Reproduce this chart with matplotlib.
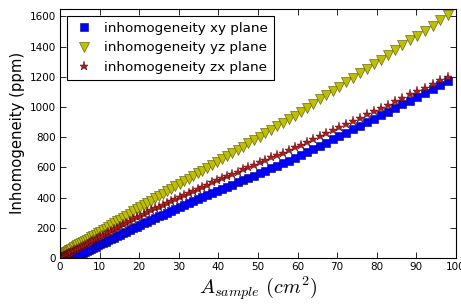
import matplotlib
matplotlib.use('Agg')
import matplotlib.pyplot as plt

# Sample area (cm^2) -- squares of the side length grid
area = [0, 0.01, 0.04, 0.09, 0.16, 0.25, 0.36, 0.49, 0.64, 0.81,
        1, 1.21, 1.44, 1.69, 1.96, 2.25, 2.56, 2.89, 3.24, 3.61,
        4, 4.41, 4.84, 5.29, 5.76, 6.25, 6.76, 7.29, 7.84, 8.41,
        9, 9.61, 10.24, 10.89, 11.56, 12.25, 12.96, 13.69, 14.44, 15.21,
        16, 16.81, 17.64, 18.49, 19.36, 20.25, 21.16, 22.09, 23.04, 24.01,
        25, 26.01, 27.04, 28.09, 29.16, 30.25, 31.36, 32.49, 33.64, 34.81,
        36, 37.21, 38.44, 39.69, 40.96, 42.25, 43.56, 44.89, 46.24, 47.61,
        49, 50.41, 51.84, 53.29, 54.76, 56.25, 57.76, 59.29, 60.84, 62.41,
        64, 65.61, 67.24, 68.89, 70.56, 72.25, 73.96, 75.69, 77.44, 79.21,
        81, 82.81, 84.64, 86.49, 88.36, 90.25, 92.16, 94.09, 96.04, 98.01]

# inhomogeneity (ppm) in the xy plane
inh_xy = [-40, -40, -39, -39, -38, -37, -35, -34, -32, -30,
          -27, -24, -22, -18, -15, -11, -7, -3, 1, 6,
          11, 16, 22, 28, 34, 40, 47, 53, 60, 68,
          75, 83, 91, 99, 108, 117, 126, 135, 144, 154,
          164, 174, 185, 196, 207, 218, 229, 240, 251, 263,
          275, 287, 299, 312, 325, 338, 350, 363, 376, 389,
          402, 416, 430, 444, 458, 472, 486, 501, 516, 531,
          546, 562, 578, 594, 610, 627, 643, 660, 679, 700,
          721, 742, 764, 785, 807, 830, 852, 875, 898, 922,
          945, 969, 993, 1018, 1042, 1067, 1093, 1118, 1144, 1170]

# inhomogeneity (ppm) in the yz plane
inh_yz = [15, 15, 16, 16, 17, 19, 21, 23, 25, 28,
          30, 34, 37, 41, 45, 50, 55, 60, 65, 71,
          77, 83, 90, 97, 104, 112, 120, 128, 137, 145,
          155, 164, 174, 184, 195, 206, 218, 230, 242, 254,
          267, 280, 294, 308, 322, 336, 350, 364, 379, 394,
          410, 425, 441, 457, 474, 491, 508, 525, 543, 561,
          579, 597, 616, 635, 655, 675, 696, 717, 738, 759,
          781, 803, 825, 848, 871, 894, 918, 942, 967, 995,
          1022, 1050, 1078, 1106, 1135, 1164, 1193, 1223, 1253, 1283,
          1314, 1345, 1377, 1409, 1441, 1473, 1506, 1539, 1573, 1607]

# inhomogeneity (ppm) in the zx plane
inh_zx = [0, 0, 1, 1, 2, 4, 5, 7, 9, 11,
          14, 17, 20, 24, 27, 32, 36, 40, 45, 51,
          56, 62, 68, 74, 81, 88, 95, 102, 110, 118,
          126, 135, 143, 152, 162, 171, 181, 191, 201, 212,
          223, 234, 245, 257, 269, 281, 292, 304, 316, 328,
          340, 352, 365, 378, 392, 405, 418, 431, 444, 458,
          472, 486, 500, 514, 529, 543, 558, 572, 587, 602,
          618, 634, 649, 666, 682, 698, 715, 732, 750, 769,
          788, 808, 828, 848, 868, 888, 909, 930, 951, 972,
          994, 1016, 1038, 1061, 1083, 1106, 1129, 1152, 1176, 1200]

plt.rcParams['mathtext.fontset'] = 'cm'
plt.rcParams['xtick.direction'] = 'in'
plt.rcParams['ytick.direction'] = 'in'
plt.rcParams['xtick.top'] = True
plt.rcParams['ytick.right'] = True

fig = plt.figure(figsize=(4.61, 3.06), dpi=100)
ax = fig.add_axes([0.130, 0.157, 0.859, 0.814])

ax.plot(area, inh_xy, 's', color='#0000ff', mec='#000080', mew=0.4, ms=5.5,
        label='inhomogeneity xy plane')
ax.plot(area, inh_yz, 'v', color='#bfbf00', mec='#505000', mew=0.4, ms=6.5,
        label='inhomogeneity yz plane')
ax.plot(area, inh_zx, '*', color='#b01c1c', mec='#400000', mew=0.3, ms=6.5,
        label='inhomogeneity zx plane')

ax.set_xlim(0, 100)
ax.set_ylim(0, 1650)
ax.set_xticks(range(0, 101, 10))
ax.set_yticks(range(0, 1601, 200))
ax.tick_params(labelsize=7.5, length=4, width=0.6, pad=3)
for s in ax.spines.values():
    s.set_linewidth(0.8)

ax.set_xlabel(r'$A_{sample}\ (cm^2)$', fontsize=14.5, labelpad=2)
ax.set_ylabel('Inhomogeneity (ppm)', fontsize=10.7, labelpad=3)

leg = ax.legend(loc='upper left', numpoints=1, fontsize=9.7, fancybox=False,
                framealpha=1, edgecolor='black', borderpad=0.45,
                handletextpad=0.7, labelspacing=0.5, handlelength=1.6)
leg.get_frame().set_linewidth(0.8)

fig.savefig('out.png', dpi=100)
